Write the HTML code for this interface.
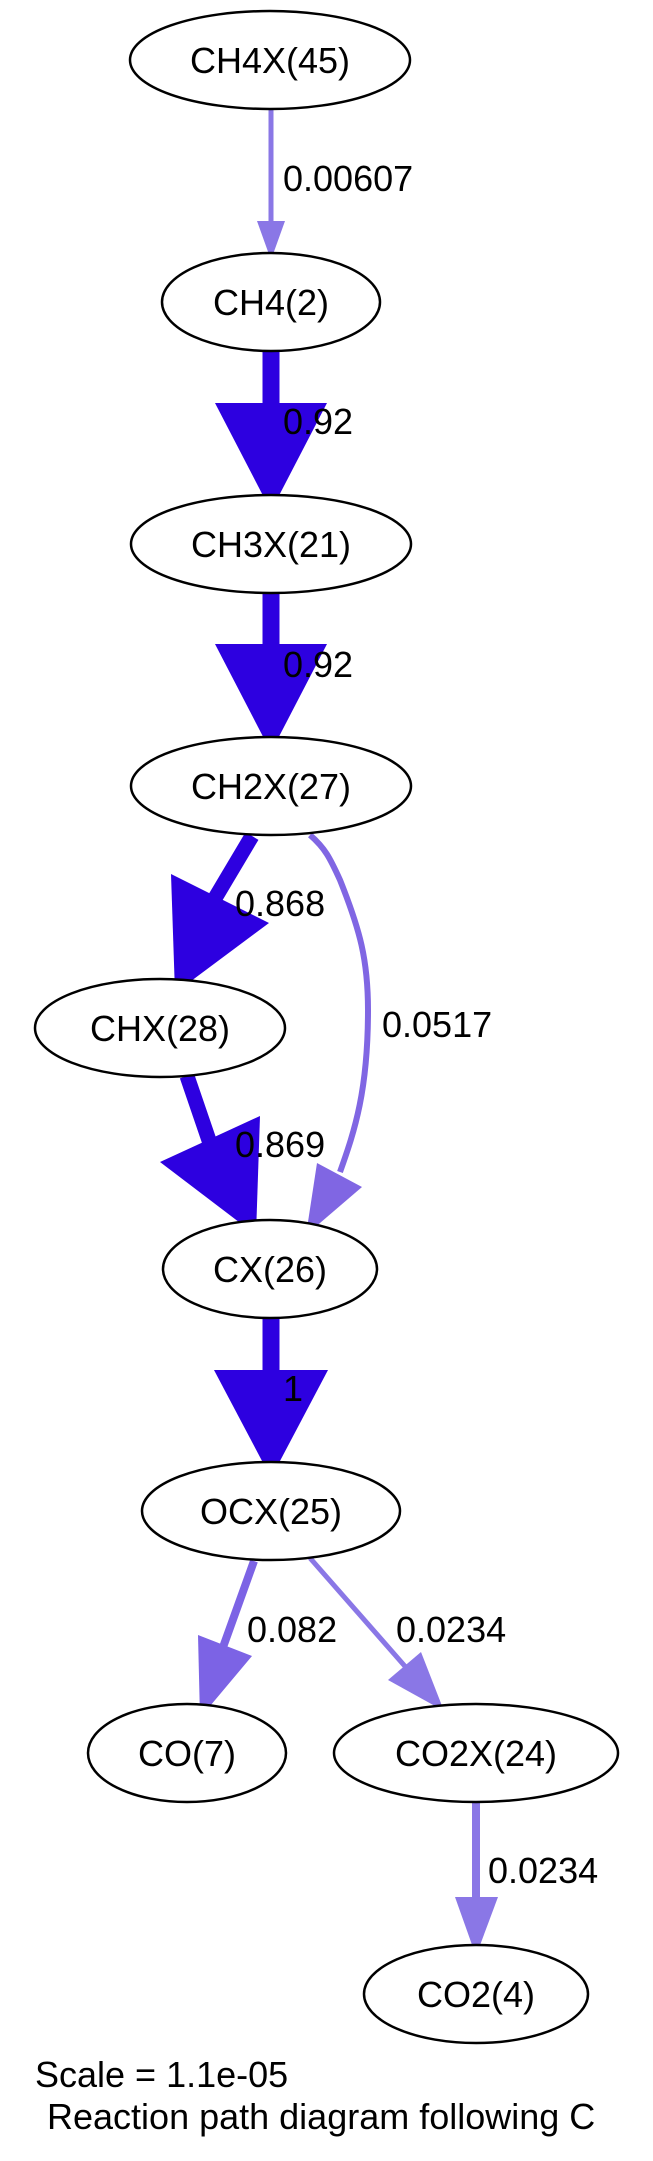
<!DOCTYPE html>
<html><head><meta charset="utf-8"><style>
html,body{margin:0;padding:0;background:#fff;}
svg{display:block;}
text{font-family:"Liberation Sans",Arial,sans-serif;font-size:36px;fill:#000;}
</style></head><body>
<svg width="653" height="2161" viewBox="0 0 653 2161" xmlns="http://www.w3.org/2000/svg">
<g fill="none">
<line x1="271" y1="110" x2="271" y2="224" stroke="#8a77e6" stroke-width="5"/>
<polygon points="257,221 285,221 271,260" fill="#8a77e6"/>

<line x1="271" y1="351" x2="271" y2="406" stroke="#2d00e0" stroke-width="17"/>
<polygon points="215,403 327,403 271,511" fill="#2d00e0"/>

<line x1="271" y1="593" x2="271" y2="647" stroke="#2d00e0" stroke-width="17"/>
<polygon points="215,644 327,644 271,752" fill="#2d00e0"/>

<line x1="252" y1="836" x2="205" y2="915" stroke="#2d00e0" stroke-width="15"/>
<polygon points="171,874 269,923 175,993" fill="#2d00e0"/>

<path d="M310,835 C325,848 330,858 340,880 C360,930 368,960 368,1010 C368,1090 355,1130 340,1172" stroke="#8066e3" stroke-width="6"/>
<polygon points="317,1163 362,1187 306,1235" fill="#8066e3"/>

<line x1="187" y1="1076" x2="214" y2="1155" stroke="#2d00e0" stroke-width="15"/>
<polygon points="160,1162 260,1116 256,1235" fill="#2d00e0"/>

<line x1="271" y1="1318" x2="271" y2="1373" stroke="#2d00e0" stroke-width="17"/>
<polygon points="214,1370 328,1370 271,1478" fill="#2d00e0"/>

<line x1="254" y1="1561" x2="222" y2="1650" stroke="#7c63e5" stroke-width="8"/>
<polygon points="198,1635 252,1656 200,1718" fill="#7c63e5"/>

<line x1="310" y1="1558" x2="410" y2="1672" stroke="#8a77e6" stroke-width="5"/>
<polygon points="388,1680 421,1652 444,1711" fill="#8a77e6"/>

<line x1="476" y1="1802" x2="476" y2="1900" stroke="#8a77e6" stroke-width="8"/>
<polygon points="455,1897 498,1897 476,1956" fill="#8a77e6"/>

<g stroke="#000" stroke-width="2.5" fill="#fff">
<ellipse cx="270" cy="60" rx="140" ry="49"/>
<ellipse cx="271" cy="302" rx="109" ry="49"/>
<ellipse cx="271" cy="544" rx="140" ry="49"/>
<ellipse cx="271" cy="786" rx="140" ry="49"/>
<ellipse cx="160" cy="1028" rx="125" ry="49"/>
<ellipse cx="270" cy="1269" rx="107" ry="49"/>
<ellipse cx="271" cy="1511" rx="129" ry="49"/>
<ellipse cx="187" cy="1753" rx="99" ry="49"/>
<ellipse cx="476" cy="1753" rx="142" ry="49"/>
<ellipse cx="476" cy="1994" rx="112" ry="49"/>
</g>
</g>
<g text-anchor="middle">
<text x="270" y="73">CH4X(45)</text>
<text x="271" y="315">CH4(2)</text>
<text x="271" y="557">CH3X(21)</text>
<text x="271" y="799">CH2X(27)</text>
<text x="160" y="1041">CHX(28)</text>
<text x="270" y="1282">CX(26)</text>
<text x="271" y="1524">OCX(25)</text>
<text x="187" y="1766">CO(7)</text>
<text x="476" y="1766">CO2X(24)</text>
<text x="476" y="2007">CO2(4)</text>
</g>
<text x="283" y="191">0.00607</text>
<text x="283" y="434">0.92</text>
<text x="283" y="677">0.92</text>
<text x="235" y="916">0.868</text>
<text x="382" y="1037">0.0517</text>
<text x="235" y="1157">0.869</text>
<text x="283" y="1401">1</text>
<text x="247" y="1642">0.082</text>
<text x="396" y="1642">0.0234</text>
<text x="488" y="1883">0.0234</text>
<text x="35" y="2087">Scale = 1.1e-05</text>
<text x="47" y="2129">Reaction path diagram following C</text>
</svg>
</body></html>
